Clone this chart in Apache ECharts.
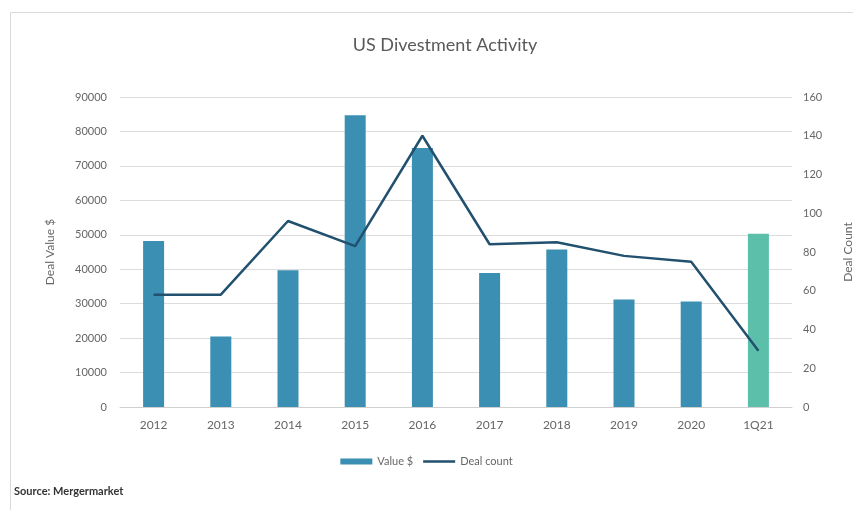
<!DOCTYPE html>
<html><head><meta charset="utf-8">
<script src="https://cdn.jsdelivr.net/npm/echarts@6/dist/echarts.min.js"></script>
<style>html,body{margin:0;padding:0;background:#fff}#c{width:853px;height:510px}</style>
</head><body><div id="c"></div>
<script>
const categories = ['2012','2013','2014','2015','2016','2017','2018','2019','2020','1Q21'];
const dealValue = [48200, 20500, 39700, 84700, 75200, 38900, 45700, 31200, 30600, 50300];
const dealCount = [58, 58, 96, 83, 140, 84, 85, 78, 75, 29];
const leftTicks = [0, 90000, 10000];
const rightTicks = [0, 160, 20];

const barColor = '#3b8fb2';
const lastColor = '#5cbfa9';
const lineColor = '#22506f';
const font = 'Lato, "Open Sans", sans-serif';

const chart = echarts.init(document.getElementById('c'));
chart.setOption({
  animation: false,
  textStyle: { fontFamily: font },
  title: { text: 'US Divestment Activity', left: 440, top: 31, textAlign: 'center',
    textStyle: { fontFamily: font, fontSize: 18, fontWeight: 'normal', color: '#595959' } },
  graphic: [
    { type: 'rect', shape: { x: 10.5, y: 12.5, width: 860, height: 520 }, style: { fill: 'none', stroke: '#d9d9d9', lineWidth: 1 } },
    { type: 'text', left: 14, top: 486, style: { text: 'Source: Mergermarket', font: 'bold 11px ' + font, fill: '#333' } }
  ],
  legend: { bottom: 38, left: 'center', itemGap: 10, itemWidth: 32, itemHeight: 6,
    textStyle: { fontFamily: font, fontSize: 11, color: '#666' },
    data: [
      { name: 'Value $', icon: 'rect' },
      { name: 'Deal count', icon: 'path://M0 1.8 H32 V4.2 H0 Z M0 0 H0.05 V6 H0 Z', itemStyle: { color: lineColor } }
    ] },
  grid: { left: 120, right: 61, top: 97, bottom: 103, containLabel: false, outerBoundsMode: 'none' },
  xAxis: { type: 'category', data: categories,
    axisLine: { lineStyle: { color: '#d0d0d0' } }, axisTick: { show: false },
    axisLabel: { color: '#666', fontSize: 12, margin: 12 } },
  yAxis: [
    { type: 'value', min: leftTicks[0], max: leftTicks[1], interval: leftTicks[2],
      name: 'Deal Value $', nameLocation: 'middle', nameGap: 64, nameRotate: 90,
      nameTextStyle: { color: '#666', fontSize: 12 },
      axisLine: { show: false }, axisTick: { show: false },
      axisLabel: { color: '#666', fontSize: 11, margin: 13, formatter: v => String(v) },
      splitLine: { lineStyle: { color: '#dcdcdc' } } },
    { type: 'value', min: rightTicks[0], max: rightTicks[1], interval: rightTicks[2],
      name: 'Deal Count', nameLocation: 'middle', nameGap: 50, nameRotate: 90,
      nameTextStyle: { color: '#666', fontSize: 12 },
      axisLine: { show: false }, axisTick: { show: false },
      axisLabel: { color: '#666', fontSize: 11, margin: 11 },
      splitLine: { show: false } }
  ],
  series: [
    { name: 'Value $', type: 'bar', barWidth: 21, itemStyle: { color: barColor },
      data: dealValue.map((v, i) => i === dealValue.length - 1 ? { value: v, itemStyle: { color: lastColor } } : v) },
    { name: 'Deal count', type: 'line', yAxisIndex: 1, data: dealCount, symbol: 'none',
      lineStyle: { color: lineColor, width: 2.5 }, itemStyle: { color: lineColor } }
  ]
});
</script></body></html>
